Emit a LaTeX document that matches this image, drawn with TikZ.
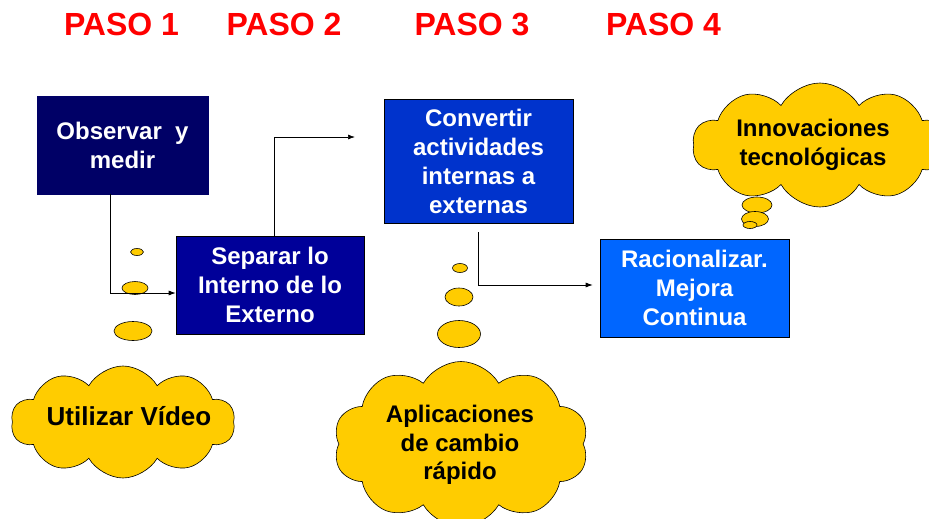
\documentclass[tikz,border=0pt]{standalone}
\usepackage{fontspec}
\setmainfont{Liberation Sans}
\usetikzlibrary{shapes.symbols,shapes.geometric,arrows.meta}
\definecolor{azulnoche}{RGB}{0,0,102}
\definecolor{azulmarino}{RGB}{0,0,153}
\definecolor{azulreal}{RGB}{0,51,204}
\definecolor{azulclaro}{RGB}{0,102,255}
\definecolor{amarillo}{RGB}{255,204,0}
\definecolor{rojopaso}{RGB}{255,0,0}

\begin{document}
\begin{tikzpicture}[
    x=1pt, y=-1pt,
    paso/.style={
        text=rojopaso,
        font=\fontsize{32}{38}\selectfont\bfseries,
        inner sep=0pt,
        anchor=base,
    },
    caja/.style={
        rectangle,
        draw=black,
        line width=0.6pt,
        text=white,
        align=center,
        font=\fontsize{24}{29}\selectfont\bfseries,
        minimum width=189pt,
        minimum height=98pt,
        inner sep=0pt,
    },
    nube/.style={
        cloud,
        cloud puffs=10,
        cloud puff arc=120,
        cloud ignores aspect,
        draw=black,
        fill=amarillo,
        line width=0.6pt,
        inner sep=0pt,
    },
    textonube/.style={
        align=center,
        font=\fontsize{24}{28.5}\selectfont\bfseries,
        inner sep=0pt,
    },
    burbuja/.style={ellipse, draw=black, fill=amarillo, line width=0.6pt, inner sep=0pt},
    flecha/.style={draw, line width=0.7pt, -{Latex[length=7pt,width=5pt]}},
    ]
    \useasboundingbox (0,0) rectangle (929,519);

    \node[paso] (p1) at (121.5,36) {PASO 1};
    \node[paso] (p2) at (284,36) {PASO 2};
    \node[paso] (p3) at (472,36) {PASO 3};
    \node[paso] (p4) at (663.5,36) {PASO 4};

    \node[caja, fill=azulnoche, draw=azulnoche, minimum width=171pt] (obs) at (122.5,145) {Observar\ \ y\\medir};
    \node[caja, fill=azulmarino, minimum width=188pt] (sep) at (270,285) {Separar lo\\Interno de lo\\Externo};
    \node[caja, fill=azulreal, minimum height=124pt] (conv) at (478.5,161) {Convertir\\actividades\\internas a\\externas};
    \node[caja, fill=azulclaro] (rac) at (694.5,288) {Racionalizar.\\Mejora\\Continua};

    \node[nube, minimum width=224pt, minimum height=112pt] (nubeVideo) at (123,422) {};
    \node[textonube, font=\fontsize{26}{30}\selectfont\bfseries] (txtVideo) at (129,416) {Utilizar Vídeo};
    \node[nube, minimum width=255pt, minimum height=165pt] (nubeCambio) at (461,444) {};
    \node[textonube] (txtCambio) at (460,445) {Aplicaciones\\de cambio\\rápido};
    \node[nube, minimum width=255pt, minimum height=124pt] (nubeInnov) at (820,145) {};
    \node[textonube] (txtInnov) at (813,145) {Innovaciones\\tecnológicas};

    \foreach \bx/\by/\bw/\bh [count=\i] in {137/252/13/7, 135/288/26/13, 133/331/38/19}
        \node[burbuja, minimum width=\bw pt, minimum height=\bh pt] (bv\i) at (\bx,\by) {};
    \foreach \bx/\by/\bw/\bh [count=\i] in {460/268/15/9, 459/297/28/18, 459/334/43/27}
        \node[burbuja, minimum width=\bw pt, minimum height=\bh pt] (bc\i) at (\bx,\by) {};
    \foreach \bx/\by/\bw/\bh [count=\i] in {757/205/30/16, 755/219/27/15, 750/225/14/7}
        \node[burbuja, minimum width=\bw pt, minimum height=\bh pt] (bi\i) at (\bx,\by) {};

    \coordinate (finSep) at (355,137);
    \draw[flecha] ([xshift=-12.5pt]obs.south) |- ([yshift=-8pt]sep.west);
    \draw[flecha] ([xshift=4pt]sep.north) |- (finSep);
    \draw[flecha] ([yshift=-9pt]conv.south) |- ([xshift=-7pt,yshift=3pt]rac.west);
\end{tikzpicture}
\end{document}
